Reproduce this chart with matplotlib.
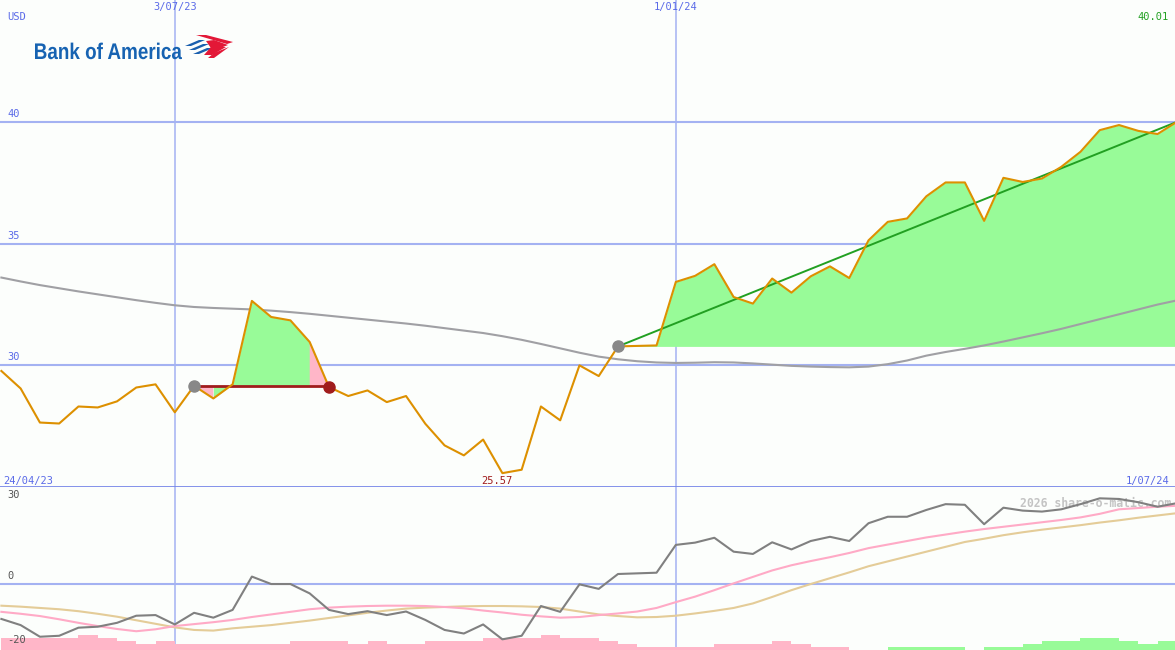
import numpy as np
import matplotlib.pyplot as plt
from matplotlib.patches import Polygon, PathPatch
from matplotlib.textpath import TextPath
from matplotlib.font_manager import FontProperties
from matplotlib.transforms import Affine2D

# weekly closing prices, USD (from 1 May 2023)
close = [29.77, 29.05, 27.65, 27.61, 28.31, 28.27, 28.52, 29.09, 29.22, 28.07,
         29.16, 28.64, 29.22, 32.65, 31.99, 31.85, 30.96, 29.11, 28.74, 28.97,
         28.49, 28.74, 27.60, 26.71, 26.30, 26.95, 25.57, 25.71, 28.31, 27.74,
         30.00, 29.56, 30.78, 30.80, 30.82, 33.43, 33.68, 34.16, 32.81, 32.54,
         33.57, 32.99, 33.66, 34.07, 33.59, 35.14, 35.90, 36.04, 36.95, 37.52,
         37.52, 35.94, 37.71, 37.54, 37.68, 38.16, 38.78, 39.67, 39.88, 39.64,
         39.51, 40.01]

# long moving average
ma_long = [33.61, 33.45, 33.30, 33.17, 33.04, 32.92, 32.80, 32.68, 32.57, 32.47,
           32.40, 32.36, 32.33, 32.30, 32.25, 32.19, 32.12, 32.04, 31.96, 31.88,
           31.80, 31.72, 31.63, 31.53, 31.43, 31.33, 31.20, 31.05, 30.88, 30.70,
           30.52, 30.36, 30.25, 30.17, 30.12, 30.10, 30.11, 30.13, 30.12, 30.08,
           30.03, 29.98, 29.95, 29.93, 29.92, 29.95, 30.05, 30.20, 30.40, 30.55,
           30.68, 30.82, 30.98, 31.15, 31.32, 31.50, 31.70, 31.90, 32.10, 32.30,
           32.50, 32.67]

# lower panel: momentum and its two averages
momentum = [-10.8, -12.7, -16.3, -16.0, -13.5, -13.2, -12.0, -9.8, -9.6, -12.5,
            -8.9, -10.4, -8.0, 2.3, 0.0, 0.0, -2.9, -8.0, -9.3, -8.4,
            -9.6, -8.5, -11.1, -14.2, -15.3, -12.5, -17.1, -16.0, -6.8, -8.6,
            -0.1, -1.5, 3.1, 3.3, 3.5, 12.1, 12.8, 14.3, 10.0, 9.3,
            12.9, 10.7, 13.3, 14.6, 13.3, 18.8, 20.8, 20.8, 22.9, 24.7,
            24.5, 18.5, 23.6, 22.7, 22.4, 23.1, 24.7, 26.5, 26.3, 25.3,
            23.9, 25.0]

mom_fast = [-8.6, -9.2, -9.9, -10.9, -12.0, -13.0, -13.9, -14.6, -14.0, -13.0,
            -12.4, -11.8, -11.1, -10.2, -9.4, -8.6, -7.8, -7.3, -7.0, -6.8,
            -6.7, -6.7, -6.8, -7.1, -7.5, -8.2, -8.8, -9.5, -10.0, -10.4,
            -10.2, -9.6, -9.1, -8.5, -7.4, -5.6, -3.9, -1.9, 0.2, 2.2,
            4.2, 5.8, 7.1, 8.3, 9.6, 11.1, 12.2, 13.3, 14.4, 15.3,
            16.2, 17.0, 17.7, 18.4, 19.1, 19.8, 20.6, 21.7, 23.1, 23.5,
            23.9, 24.2]

mom_slow = [-6.7, -7.0, -7.4, -7.8, -8.4, -9.2, -10.1, -11.2, -12.3, -13.4,
            -14.2, -14.4, -13.7, -13.2, -12.7, -12.0, -11.3, -10.5, -9.7, -8.9,
            -8.2, -7.6, -7.3, -7.1, -6.9, -6.8, -6.8, -6.9, -7.1, -7.6,
            -8.5, -9.4, -9.9, -10.3, -10.2, -9.8, -9.1, -8.3, -7.4, -6.0,
            -4.0, -1.9, 0.0, 1.8, 3.6, 5.5, 7.0, 8.5, 10.0, 11.5,
            13.0, 14.0, 15.1, 16.0, 16.8, 17.5, 18.2, 19.0, 19.7, 20.5,
            21.2, 21.9]

hist = [-3.8, -3.8, -3.8, -3.8, -4.6, -3.8, -2.8, -2.0, -2.8, -2.0,
        -2.0, -2.0, -2.0, -2.0, -2.0, -2.8, -2.8, -2.8, -2.0, -2.8,
        -2.0, -2.0, -2.8, -2.8, -2.8, -3.8, -3.8, -3.8, -4.6, -3.8,
        -3.8, -2.8, -2.0, -1.0, -1.0, -1.0, -1.0, -2.0, -2.0, -2.0,
        -2.8, -2.0, -1.0, -1.0, 0.0, 0.0, 1.0, 1.0, 1.0, 1.0,
        0.0, 1.0, 1.0, 2.0, 2.8, 2.8, 3.8, 3.8, 2.8, 2.0,
        2.8, 2.8]

# trades: (entry week, exit week)
trade1 = (10, 17)
trade2_entry = 32

price_ticks = [30, 35, 40]
osc_ticks = [30, 0, -20]
date_lines = ['2023-07-03', '2024-01-01']
date_labels = ['3/07/23', '1/01/24']

BG = '#fcfefc'
GRID = '#a4b2f2'
BLUE_TXT = '#5a6ae8'
ORANGE = '#dd9000'
PGREEN = '#98fb98'
PINK = '#ffb6c8'
DRED = '#a01c1c'
MONO = 'DejaVu Sans Mono'

dates = np.datetime64('2023-05-01') + 7 * np.arange(len(close))
close = np.array(close)
xmin = dates[0] - np.timedelta64(1, 'D') + np.timedelta64(12, 'h')
xmax = np.datetime64('2024-06-30T08')

fig = plt.figure(figsize=(11.75, 6.5), dpi=100, facecolor=BG)
ax = fig.add_axes([0, 163 / 650, 1, 487 / 650])
ax2 = fig.add_axes([0, 0, 1, 163 / 650])
for a in (ax, ax2):
    a.set_facecolor(BG)
    a.set_xlim(xmin, xmax)
    a.set_xticks([])
    a.set_yticks([])
    for s in a.spines.values():
        s.set_visible(False)
    for d in date_lines:
        a.axvline(np.datetime64(d), color=GRID, lw=1.1, zorder=1)

# ---- price panel ----
ax.set_ylim(25, 45.02)
for t in price_ticks:
    ax.axhline(t, color=GRID, lw=1.5, zorder=1)
    ax.text(0.006, t + 0.12, str(t), transform=ax.get_yaxis_transform(),
            fontsize=7.5, family=MONO, color=BLUE_TXT, va='bottom')
for d, lab in zip(date_lines, date_labels):
    ax.text(np.datetime64(d), 0.995, lab, transform=ax.get_xaxis_transform(),
            fontsize=7.5, family=MONO, color=BLUE_TXT, ha='center', va='top')
ax.axhline(25.02, color='#7888e8', lw=2, zorder=6)

# trade 2 (open) fill sits under the moving average
base2 = close[trade2_entry]
ax.fill_between(dates[trade2_entry:], close[trade2_entry:], base2, color=PGREEN, lw=0, zorder=2)

ax.plot(dates, ma_long, color='#a0a0a4', lw=1.5, zorder=2.5)

# trade 1 (closed)
e, x = trade1
base1 = close[e]
seg = slice(e, x + 1)
n = x - e + 1
green_mask = np.array([1 <= k <= n - 2 for k in range(n)])
pink_mask = np.array([k <= 1 or k >= n - 2 for k in range(n)])
ax.fill_between(dates[seg], close[seg], base1, where=green_mask, color=PGREEN, lw=0, zorder=3)
ax.fill_between(dates[seg], close[seg], base1, where=pink_mask, color=PINK, lw=0, zorder=3)
ax.plot([dates[e], dates[x]], [base1, base1], color=DRED, lw=2, zorder=4)

ax.plot([dates[trade2_entry], dates[-1]], [base2, close[-1]], color='#22a022', lw=1.4, zorder=4)

ax.plot(dates, close, color=ORANGE, lw=1.5, zorder=5)
ax.plot(dates[e], close[e], 'o', color='#888888', ms=8, zorder=7)
ax.plot(dates[x], close[x], 'o', color=DRED, ms=8, zorder=7)
ax.plot(dates[trade2_entry], base2, 'o', color='#888888', ms=8, zorder=7)

imin = int(np.argmin(close))
ax.text(dates[imin] - np.timedelta64(2, 'D'), close[imin] - 0.12, f'{close[imin]:.2f}',
        fontsize=7.5, family=MONO, color=DRED, ha='center', va='top', zorder=8)
ax.text(0.995, 0.975, f'{close[-1]:.2f}', transform=ax.transAxes, fontsize=7.5,
        family=MONO, color='#22a022', ha='right', va='top')
ax.text(0.006, 0.975, 'USD', transform=ax.transAxes, fontsize=7.5,
        family=MONO, color=BLUE_TXT, va='top')
ax.text(0.003, 0.003, '24/04/23', transform=ax.transAxes, fontsize=7.5,
        family=MONO, color=BLUE_TXT, va='bottom')
ax.text(0.995, 0.003, '1/07/24', transform=ax.transAxes, fontsize=7.5,
        family=MONO, color=BLUE_TXT, va='bottom', ha='right')

# ---- oscillator panel ----
ax2.set_ylim(-20.4, 30)
ax2.axhline(0, color=GRID, lw=1.5, zorder=1)
for t in osc_ticks:
    ax2.text(0.006, t - 1.0 if t > 0 else t + 1.0, str(t), transform=ax2.get_yaxis_transform(),
             fontsize=7.5, family=MONO, color='#555555',
             va='top' if t > 0 else 'bottom')
hist = np.array(hist)
bar_colors = [PGREEN if h > 0 else PINK for h in hist]
ax2.bar(dates, np.abs(hist), bottom=-20.4, width=7, align='edge',
        color=bar_colors, lw=0, zorder=2)
ax2.plot(dates, mom_slow, color='#e4cc98', lw=1.5, zorder=3)
ax2.plot(dates, mom_fast, color='#ffaac6', lw=1.5, zorder=3)
ax2.plot(dates, momentum, color='#808080', lw=1.5, zorder=4)
ax2.text(0.997, 0.94, '2026 share-o-matic.com', transform=ax2.transAxes,
         fontsize=8.3, family=MONO, weight='bold', color='#c4c4c4',
         ha='right', va='top', zorder=1)

# ---- logo (pixel coordinates, y down) ----
lg = fig.add_axes([0, 0, 1, 1], facecolor='none')
lg.set_xlim(0, 1175)
lg.set_ylim(650, 0)
lg.axis('off')
tp = TextPath((0, 0), 'Bank of America', size=20,
              prop=FontProperties(family='Liberation Sans', weight='bold'))
bb = tp.get_extents()
sx = 147 / bb.width
sy = 16.5 / (0.729 * 20)
tr = Affine2D().translate(-bb.x0, 0).scale(sx, -sy).translate(35, 59)
lg.add_patch(PathPatch(tr.transform_path(tp), color='#1763b2', lw=0))

blue_stripes = [[(185, 46), (199, 40), (205, 40), (191, 46)],
                [(189, 50), (203, 44), (209, 44), (195, 50)],
                [(193, 54), (207, 48), (213, 48), (199, 54)]]
red_stripes = [[(196, 35), (206, 35), (233, 42), (227, 44)],
               [(206, 41), (214, 40), (228, 45), (213, 51)],
               [(211, 47), (226, 47), (212, 55), (204, 55)],
               [(214, 53), (229, 47), (214, 58), (208, 58)]]
for p in blue_stripes:
    lg.add_patch(Polygon(p, closed=True, color='#1a5fae', lw=0))
for p in red_stripes:
    lg.add_patch(Polygon(p, closed=True, color='#e31837', lw=0))

fig.savefig('out.png', dpi=100, facecolor=BG)
